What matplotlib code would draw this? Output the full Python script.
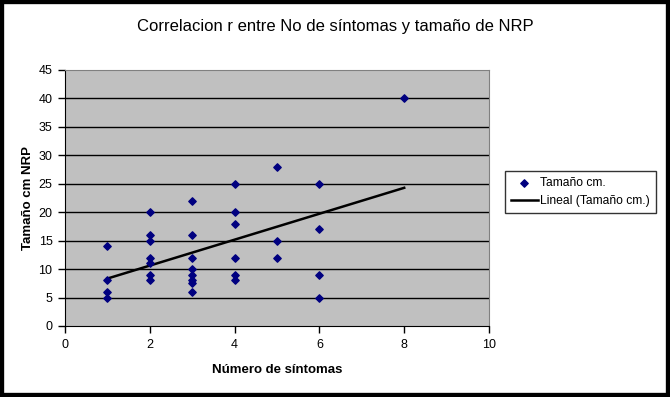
import matplotlib.pyplot as plt
import numpy as np
from matplotlib.patches import Rectangle

plt.rcParams['font.family'] = ['Liberation Sans', 'DejaVu Sans']

# datos
sintomas = [1, 1, 1, 1,
            2, 2, 2, 2, 2, 2, 2,
            3, 3, 3, 3, 3, 3, 3, 3,
            4, 4, 4, 4, 4, 4,
            5, 5, 5,
            6, 6, 6, 6,
            8]
tamano = [14, 8, 6, 5,
          20, 16, 15, 12, 11, 9, 8,
          22, 16, 12, 10, 9, 8, 7.5, 6,
          25, 20, 18, 12, 9, 8,
          28, 15, 12,
          25, 17, 9, 5,
          40]
x_ticks = [0, 2, 4, 6, 8, 10]
y_ticks = [0, 5, 10, 15, 20, 25, 30, 35, 40, 45]

x = np.array(sintomas, dtype=float)
y = np.array(tamano, dtype=float)
m, b = np.polyfit(x, y, 1)

fig = plt.figure(figsize=(6.7, 3.97), dpi=100)
ax = fig.add_axes([65 / 670, 1 - 326 / 397, 424 / 670, 256 / 397])
ax.set_facecolor('#c0c0c0')

for yt in y_ticks[1:-1]:
    ax.axhline(yt, color='black', linewidth=1, zorder=1)

ax.scatter(x, y, marker='D', s=14, color='#000080', zorder=3, label='Tamaño cm.')
xl = np.array([x.min(), x.max()])
ax.plot(xl, m * xl + b, color='black', linewidth=1.8, zorder=2, label='Lineal (Tamaño cm.)')

ax.set_xlim(0, 10)
ax.set_ylim(0, 45)
ax.set_xticks(x_ticks)
ax.set_yticks(y_ticks)
ax.tick_params(direction='out', length=5, width=1, labelsize=9, colors='black', pad=4)

for s in ['top', 'right']:
    ax.spines[s].set_color('#808080')
for s in ['left', 'bottom']:
    ax.spines[s].set_color('black')

ax.set_xlabel('Número de síntomas', fontsize=9.5, fontweight='bold', labelpad=10)
ax.set_ylabel('Tamaño cm NRP', fontsize=9.5, fontweight='bold', labelpad=3)

fig.text(0.5, 1 - 27 / 397, 'Correlacion r entre No de síntomas y tamaño de NRP',
         ha='center', va='center', fontsize=12)

leg = fig.legend(loc='center left', bbox_to_anchor=(505 / 670, 1 - 192 / 397),
                 fontsize=8.7, frameon=True, fancybox=False, edgecolor='black',
                 borderpad=0.5, handlelength=2.2, handletextpad=0.2, borderaxespad=0)
leg.get_frame().set_linewidth(1)

# marco negro alrededor de la figura
fig.patches.append(Rectangle((0, 0), 1, 1, transform=fig.transFigure,
                             fill=False, edgecolor='black', linewidth=6))

fig.savefig('out.png', dpi=100, facecolor='white')
